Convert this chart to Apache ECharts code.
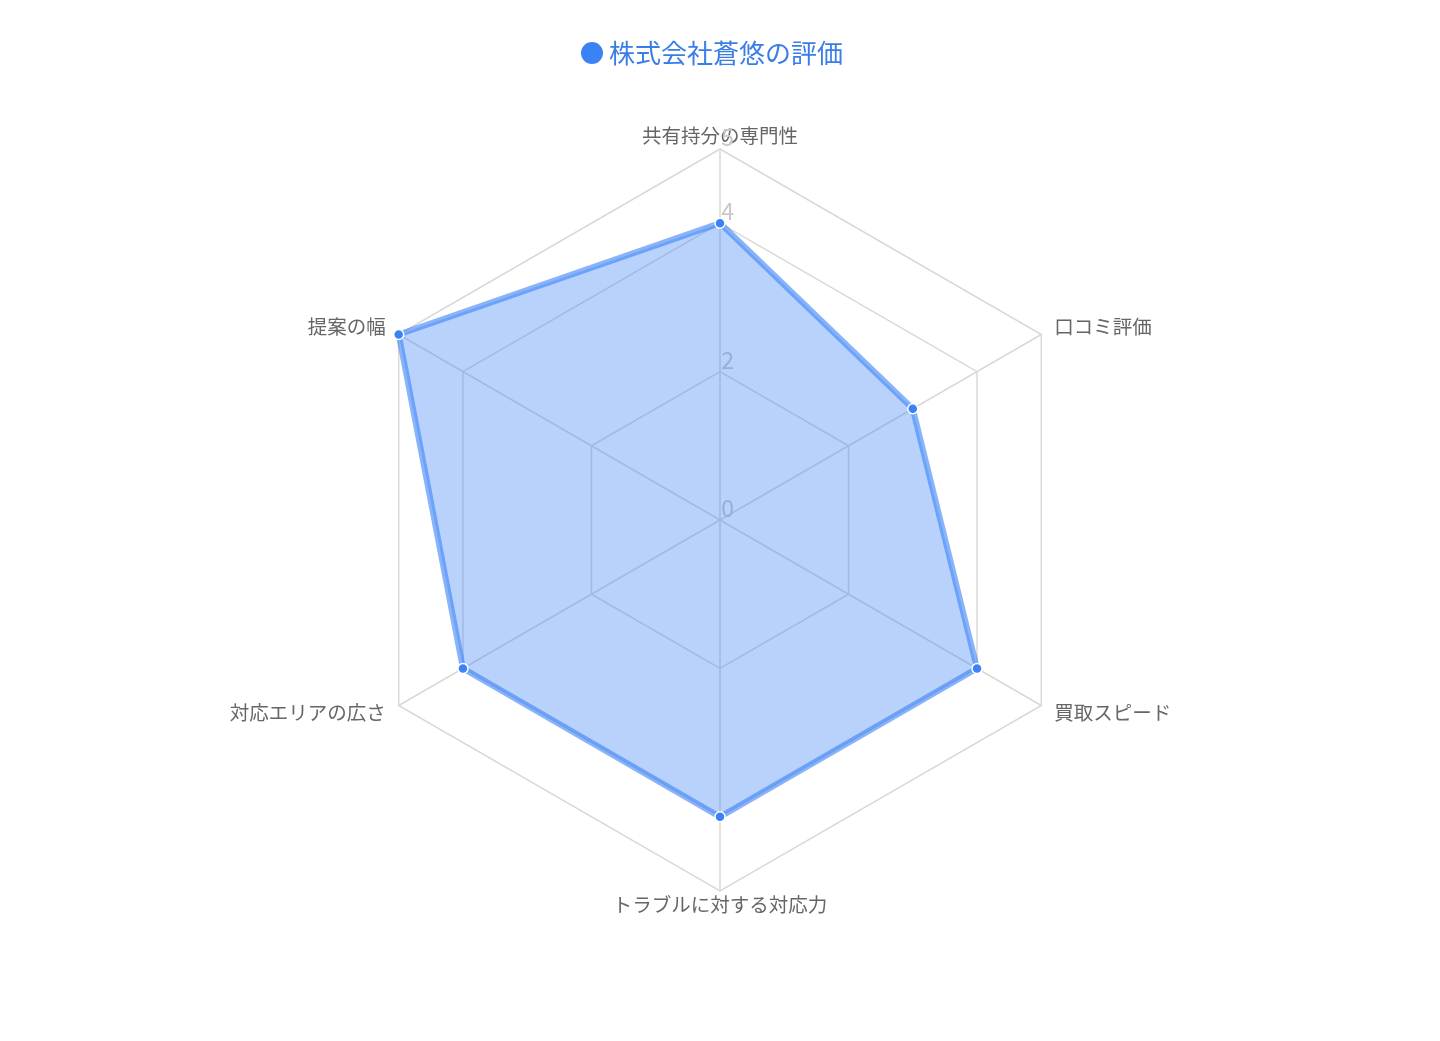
<!DOCTYPE html>
<html>
<head>
<meta charset="utf-8">
<script src="https://cdn.jsdelivr.net/npm/echarts@6/dist/echarts.min.js"></script>
<style>
  html,body{margin:0;padding:0;background:#fff}
  #chart{width:1440px;height:1041px}
</style>
</head>
<body>
<div id="chart"></div>
<script>
// data (order goes counter-clockwise from the top)
const seriesName = '株式会社蒼悠の評価'
const axisNames = ['共有持分の専門性', '提案の幅', '対応エリアの広さ', 'トラブルに対する対応力', '買取スピード', '口コミ評価']
const scores = [4, 5, 4, 4, 4, 3]
const maxScore = 5
const innerMax = 4
const innerSplits = 2

let font = '"Noto Sans CJK JP", "Noto Sans", sans-serif'
let R = 371
let cx = 720, cy = 520
let gridColor = '#d9d9d9'

// tick numbers sit just right of the top axis, a little above each ring
let tickLabel = (show, formatter) => ({
  show,
  color: '#c8c8c8',
  fontSize: 23,
  margin: -14,
  verticalAlign: 'bottom',
  formatter
})

let outerIndicators = axisNames.map((name, i) => {
  let vertical = i === 0 || i === 3
  return {
    name,
    max: maxScore,
    min: 0,
    nameGap: vertical ? 4 : 15,
    nameMoveOverlap: false,
    axisLabel: tickLabel(i === 0, v => (v === maxScore ? String(v) : ''))
  }
})
let innerIndicators = axisNames.map((name, i) => ({
  name,
  max: innerMax,
  min: 0,
  axisLabel: tickLabel(i === 0)
}))

let myChart = echarts.init(document.getElementById('chart'))
let option = {
  backgroundColor: '#fff',
  textStyle: {fontFamily: font},
  legend: {
    top: 35,
    left: 574,
    data: [seriesName],
    icon: 'circle',
    itemWidth: 24,
    itemHeight: 24,
    itemGap: 10,
    textStyle: {color: '#3b7de6', fontSize: 26, fontFamily: font}
  },
  radar: [{
    center: [cx, cy],
    radius: R,
    startAngle: 90,
    splitNumber: 1,
    shape: 'polygon',
    nameMoveOverlap: false,
    indicator: outerIndicators,
    axisName: {color: '#666', fontSize: 19.5, fontFamily: font},
    axisLine: {lineStyle: {color: gridColor, width: 1.5}},
    splitLine: {lineStyle: {color: gridColor, width: 1.5}},
    splitArea: {show: false},
    axisLabel: tickLabel(false)
  }, {
    center: [cx, cy],
    radius: R * innerMax / maxScore,
    startAngle: 90,
    splitNumber: innerSplits,
    shape: 'polygon',
    indicator: innerIndicators,
    axisName: {show: false},
    axisLine: {show: false},
    splitLine: {lineStyle: {color: gridColor, width: 1.5}},
    splitArea: {show: false},
    axisLabel: tickLabel(false)
  }],
  series: [{
    name: seriesName,
    type: 'radar',
    radarIndex: 0,
    symbol: 'circle',
    symbolSize: 10,
    itemStyle: {color: '#3b82f6', borderColor: '#fff', borderWidth: 1.5},
    lineStyle: {color: 'rgba(59,130,246,0.6)', width: 6},
    areaStyle: {color: 'rgba(59,130,246,0.36)', opacity: 1},
    data: [{value: scores, name: seriesName}]
  }]
}
myChart.setOption(option)
</script>
</body>
</html>
